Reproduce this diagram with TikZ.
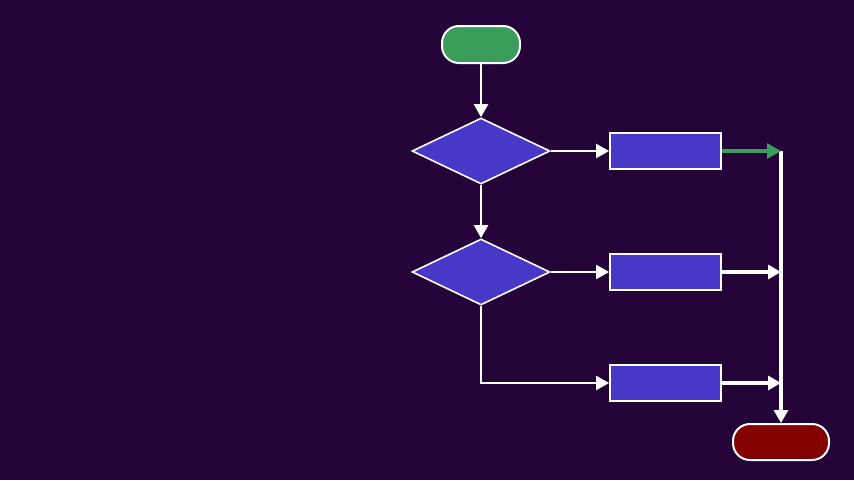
\documentclass[tikz,border=0pt]{standalone}
\usetikzlibrary{shapes.geometric,arrows.meta}
\definecolor{bgpurple}{HTML}{240339}
\definecolor{stepblue}{HTML}{4838C8}
\definecolor{startgreen}{HTML}{3A9E5A}
\definecolor{enddark}{HTML}{850000}
\tikzset{
  terminal/.style={draw=white, line width=2pt, rounded corners=17pt, inner sep=0pt},
  decision/.style={diamond, draw=white, fill=stepblue, line width=1.6pt, inner sep=0pt,
    minimum width=138pt, minimum height=66pt, aspect=2.09},
  process/.style={rectangle, draw=white, fill=stepblue, line width=1.8pt, inner sep=0pt,
    minimum width=111pt, minimum height=36pt},
  flow/.style={draw=white, line width=2.4pt, -{Triangle[length=13pt,width=14pt]}},
  merge/.style={draw=white, line width=3.2pt, -{Triangle[length=13pt,width=14pt]}},
}
\begin{document}
\begin{tikzpicture}[x=1pt,y=-1pt]
\fill[bgpurple] (0,0) rectangle (854,480);
\useasboundingbox (0,0) rectangle (854,480);

% terminals
\node[terminal, fill=startgreen, minimum width=78pt, minimum height=37pt] (start) at (481,44.5) {};
\node[terminal, fill=enddark, minimum width=96pt, minimum height=36pt] (stop) at (781,442) {};

% decisions
\node[decision] (d1) at (481,151) {};
\node[decision] (d2) at (481,272) {};

% process steps
\node[process] (p1) at (665.5,151) {};
\node[process] (p2) at (665.5,272) {};
\node[process] (p3) at (665.5,383) {};

% merge points on the collector line
\coordinate (m1) at (781,151);
\coordinate (m2) at (781,272);
\coordinate (m3) at (781,383);
\coordinate (corner) at (481,383);

% main flow
\draw[flow] (start.south) -- (d1.north);
\draw[flow] (d1.east) -- (p1.west);
\draw[flow] (d1.south) -- (d2.north);
\draw[flow] (d2.east) -- (p2.west);
\draw[flow] (d2.south) -- (corner) -- (p3.west);

% collector
\draw[merge] (m1) -- (stop.north);
\draw[merge, draw=startgreen, -{Triangle[length=14pt,width=15pt]}] (p1.east) -- (m1);
\draw[merge] (p2.east) -- (m2);
\draw[merge] (p3.east) -- (m3);
\end{tikzpicture}
\end{document}
